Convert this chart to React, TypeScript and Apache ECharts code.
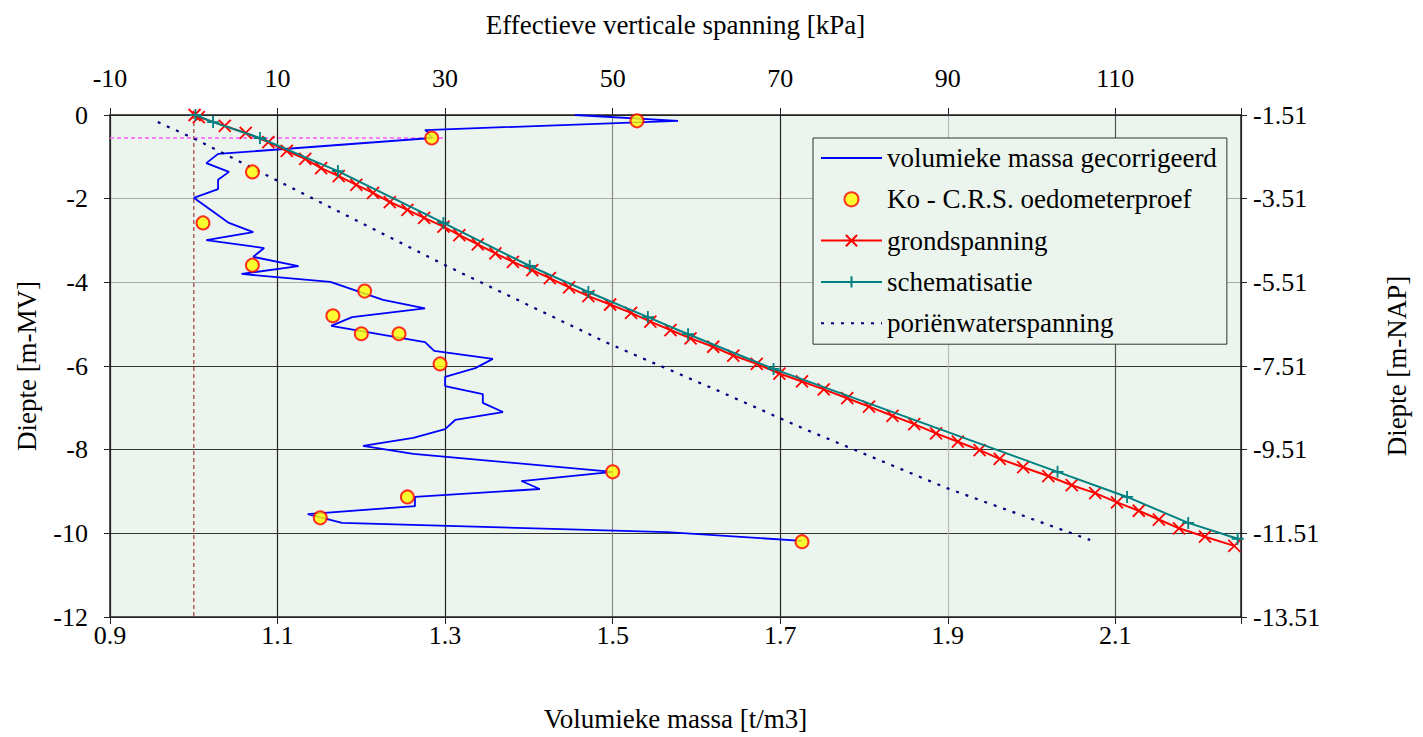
import React, { useEffect, useRef } from "react";
import * as echarts from "echarts";

// [volumieke massa t/m3, diepte m-MV]
const massCorrected: [number, number][] = [
  [1.455, 0.0], [1.578, -0.14], [1.276, -0.36], [1.279, -0.4], [1.284, -0.55],
  [1.029, -0.93], [1.015, -1.15], [1.042, -1.36], [1.029, -1.55], [1.029, -1.77],
  [1.0, -1.98], [1.042, -2.58], [1.071, -2.8], [1.015, -2.99], [1.084, -3.18],
  [1.071, -3.39], [1.125, -3.61], [1.057, -3.8], [1.163, -3.99], [1.226, -4.42],
  [1.276, -4.62], [1.189, -4.83], [1.164, -5.04], [1.276, -5.43], [1.287, -5.64],
  [1.357, -5.83], [1.336, -6.05], [1.3, -6.26], [1.3, -6.48], [1.345, -6.67],
  [1.345, -6.88], [1.369, -7.1], [1.312, -7.29], [1.3, -7.51], [1.262, -7.72],
  [1.202, -7.91], [1.262, -8.1], [1.5, -8.53], [1.391, -8.75], [1.413, -8.94],
  [1.264, -9.13], [1.264, -9.35], [1.136, -9.54], [1.177, -9.75], [1.565, -9.97],
  [1.726, -10.18],
];

// [volumieke massa t/m3, diepte m-MV]
const crsTests: [number, number][] = [
  [1.529, -0.14], [1.284, -0.55], [1.07, -1.36], [1.011, -2.58], [1.07, -3.59],
  [1.204, -4.21], [1.166, -4.8], [1.2, -5.23], [1.245, -5.23], [1.294, -5.95],
  [1.5, -8.53], [1.255, -9.13], [1.151, -9.63], [1.726, -10.2],
];

// [kPa, diepte m-MV]
const groundStress: [number, number][] = [
  [0.1, 0], [0.6, -0.05], [3.7, -0.26], [6.2, -0.43], [8.9, -0.65], [11.1, -0.86],
  [13.3, -1.05], [15.2, -1.27], [17.3, -1.46], [19.4, -1.67], [21.4, -1.86],
  [23.4, -2.08], [25.5, -2.27], [27.5, -2.46], [29.8, -2.67], [31.7, -2.87],
  [33.9, -3.09], [36.0, -3.31], [38.1, -3.51], [40.4, -3.71], [42.5, -3.9],
  [44.8, -4.12], [47.1, -4.33], [49.7, -4.53], [52.2, -4.73], [54.5, -4.94],
  [56.9, -5.14], [59.3, -5.34], [62.0, -5.54], [64.4, -5.75], [67.2, -5.95],
  [69.9, -6.18], [72.6, -6.37], [75.2, -6.56], [78.0, -6.77], [80.6, -6.97],
  [83.4, -7.19], [86.0, -7.39], [88.6, -7.61], [91.2, -7.81], [93.8, -8.01],
  [96.2, -8.22], [99.0, -8.42], [102.0, -8.63], [104.8, -8.85], [107.6, -9.04],
  [110.2, -9.26], [112.8, -9.46], [115.2, -9.67], [117.6, -9.88], [120.7, -10.08],
  [124.2, -10.3],
];

// [kPa, diepte m-MV]
const schematisation: [number, number][] = [
  [0.2, 0], [2.3, -0.17], [7.9, -0.55], [17.2, -1.34], [29.8, -2.58], [40.1, -3.61],
  [47.1, -4.23], [54.2, -4.83], [59.0, -5.24], [69.2, -6.07], [103.1, -8.53],
  [111.4, -9.13], [118.7, -9.75], [124.6, -10.13],
];

// [kPa, diepte m-MV]
const porePressure: [number, number][] = [
  [-4.3, -0.17], [0, -0.56], [30.1, -3.6], [49.7, -5.48], [62.8, -6.61],
  [72.7, -7.49], [89.9, -8.92], [107.0, -10.16],
];

// [kPa, diepte m-MV]
const waterTableLine: [number, number][] = [[-10, -0.55], [30, -0.55]];
const zeroStressLine: [number, number][] = [[0, 0], [0, -12]];

const NAP_OFFSET = 1.51;
const LEGEND_NAMES = [
  "volumieke massa gecorrigeerd",
  "Ko - C.R.S. oedometerproef",
  "grondspanning",
  "schematisatie",
  "poriënwaterspanning",
];

const FONT = "'Liberation Serif', 'Times New Roman', serif";
const PLOT_BG = "#ecf5ed";

// shared horizontal scale: 0 at 0.9 t/m3 == -10 kPa, 1 unit = 0.01 t/m3 = 1 kPa
const massToX = (m: number) => +((m - 0.9) * 100).toFixed(3);
const kpaToX = (k: number) => +(k + 10).toFixed(3);

const hiddenSymbol = { color: "transparent", borderColor: "transparent", borderWidth: 0 };

export default function App() {
  const ref = useRef<HTMLDivElement>(null);

  useEffect(() => {
    if (!ref.current) return;
    const chart = echarts.init(ref.current, undefined, { renderer: "svg" });

    const labelStyle = { fontFamily: FONT, fontSize: 26, color: "#000" };
    const nameStyle = { fontFamily: FONT, fontSize: 27, color: "#000" };

    chart.setOption({
      animation: false,
      textStyle: { fontFamily: FONT },
      grid: {
        left: 110,
        right: 182,
        top: 115,
        bottom: 120,
        show: true,
        backgroundColor: PLOT_BG,
        borderWidth: 0,
      },
      legend: {
        show: true,
        orient: "vertical",
        left: 813,
        top: 138,
        padding: [5, 10, 6, 7],
        itemWidth: 61,
        itemHeight: 14,
        itemGap: 11.3,
        backgroundColor: PLOT_BG,
        borderColor: "#333",
        borderWidth: 1,
        borderRadius: 0,
        selectedMode: false,
        textStyle: { fontFamily: FONT, fontSize: 27, color: "#000", lineHeight: 30 },
        data: LEGEND_NAMES,
      },
      xAxis: [
        {
          type: "value",
          position: "bottom",
          min: 0,
          max: 135,
          interval: 20,
          name: "Volumieke massa [t/m3]",
          nameLocation: "middle",
          nameGap: 88,
          nameTextStyle: nameStyle,
          axisLine: { show: true, onZero: false, lineStyle: { color: "#222", width: 1.5 } },
          axisTick: { show: true, length: 7, lineStyle: { color: "#222", width: 1 } },
          axisLabel: {
            ...labelStyle,
            margin: 5,
            verticalAlign: "top",
            formatter: (v: number) => (v > 125 ? "" : (0.9 + v / 100).toFixed(1)),
          },
          splitLine: {
            show: true,
            lineStyle: {
              color: ["#222", "#222", "#222", "#888", "#222", "#bbb", "#555", "#222"],
              width: 1.2,
            },
          },
        },
        {
          type: "value",
          position: "top",
          min: 0,
          max: 135,
          interval: 20,
          name: "Effectieve verticale spanning [kPa]",
          nameLocation: "middle",
          nameGap: 77,
          nameTextStyle: nameStyle,
          axisLine: { show: true, onZero: false, lineStyle: { color: "#222", width: 1.5 } },
          axisTick: { show: true, length: 7, lineStyle: { color: "#222", width: 1 } },
          axisLabel: {
            ...labelStyle,
            margin: 24,
            verticalAlign: "bottom",
            formatter: (v: number) => (v > 125 ? "" : String(v - 10)),
          },
          splitLine: { show: false },
        },
      ],
      yAxis: [
        {
          type: "value",
          position: "left",
          min: -12,
          max: 0,
          interval: 2,
          name: "Diepte [m-MV]",
          nameLocation: "middle",
          nameGap: 70,
          nameTextStyle: nameStyle,
          axisLine: { show: true, onZero: false, lineStyle: { color: "#222", width: 1.5 } },
          axisTick: { show: true, length: 6, lineStyle: { color: "#222", width: 1 } },
          axisLabel: { ...labelStyle, margin: 22, align: "right" },
          splitLine: {
            show: true,
            lineStyle: {
              color: ["#222", "#333", "#333", "#333", "#aaa", "#aaa", "#222"],
              width: 1.2,
            },
          },
        },
        {
          type: "value",
          position: "right",
          min: -12,
          max: 0,
          interval: 2,
          name: "Diepte [m-NAP]",
          nameLocation: "middle",
          nameGap: 142,
          nameTextStyle: nameStyle,
          axisLine: { show: true, onZero: false, lineStyle: { color: "#222", width: 1.5 } },
          axisTick: { show: true, length: 6, lineStyle: { color: "#222", width: 1 } },
          axisLabel: {
            ...labelStyle,
            margin: 12,
            align: "left",
            formatter: (v: number) => (v - NAP_OFFSET).toFixed(2),
          },
          splitLine: { show: false },
        },
      ],
      series: [
        {
          name: "zeroStress",
          type: "line",
          silent: true,
          symbol: "none",
          data: zeroStressLine.map(([k, d]) => [kpaToX(k), d]),
          lineStyle: { color: "#b06060", width: 1.5, type: [4, 3] },
          z: 2,
        },
        {
          name: "waterTable",
          type: "line",
          silent: true,
          symbol: "none",
          data: waterTableLine.map(([k, d]) => [kpaToX(k), d]),
          lineStyle: { color: "#ff55ff", width: 1.5, type: [4, 3] },
          z: 2,
        },
        {
          name: LEGEND_NAMES[0],
          type: "line",
          symbol: "circle",
          showSymbol: false,
          data: massCorrected.map(([m, d]) => [massToX(m), d]),
          lineStyle: { color: "#0000ff", width: 1.8 },
          itemStyle: hiddenSymbol,
          z: 3,
        },
        {
          name: LEGEND_NAMES[4],
          type: "line",
          symbol: "circle",
          showSymbol: false,
          data: porePressure.map(([k, d]) => [kpaToX(k), d]),
          lineStyle: { color: "#000080", width: 2.2, type: [3, 7] },
          itemStyle: hiddenSymbol,
          z: 3,
        },
        {
          name: LEGEND_NAMES[2],
          type: "line",
          symbol: "path://M0,0L10,10M10,0L0,10",
          symbolSize: 12,
          showSymbol: true,
          data: groundStress.map(([k, d]) => [kpaToX(k), d]),
          lineStyle: { color: "#ff0000", width: 2 },
          itemStyle: { color: "#ff0000", borderColor: "#ff0000", borderWidth: 1.8 },
          z: 4,
        },
        {
          name: LEGEND_NAMES[3],
          type: "line",
          symbol: "path://M5,0L5,10M0,5L10,5",
          symbolSize: 12,
          showSymbol: true,
          data: schematisation.map(([k, d]) => [kpaToX(k), d]),
          lineStyle: { color: "#008080", width: 2 },
          itemStyle: { color: "#008080", borderColor: "#008080", borderWidth: 1.8 },
          z: 5,
        },
        {
          name: LEGEND_NAMES[1],
          type: "scatter",
          symbol: "circle",
          symbolSize: 13,
          data: crsTests.map(([m, d]) => [massToX(m), d]),
          itemStyle: { color: "#ffff00", borderColor: "#ff0000", borderWidth: 2 },
          z: 6,
        },
      ],
    });

    return () => chart.dispose();
  }, []);

  return (
    <div
      ref={ref}
      style={{ position: "fixed", left: 0, top: 0, width: 1423, height: 737, background: "#fff" }}
    />
  );
}
